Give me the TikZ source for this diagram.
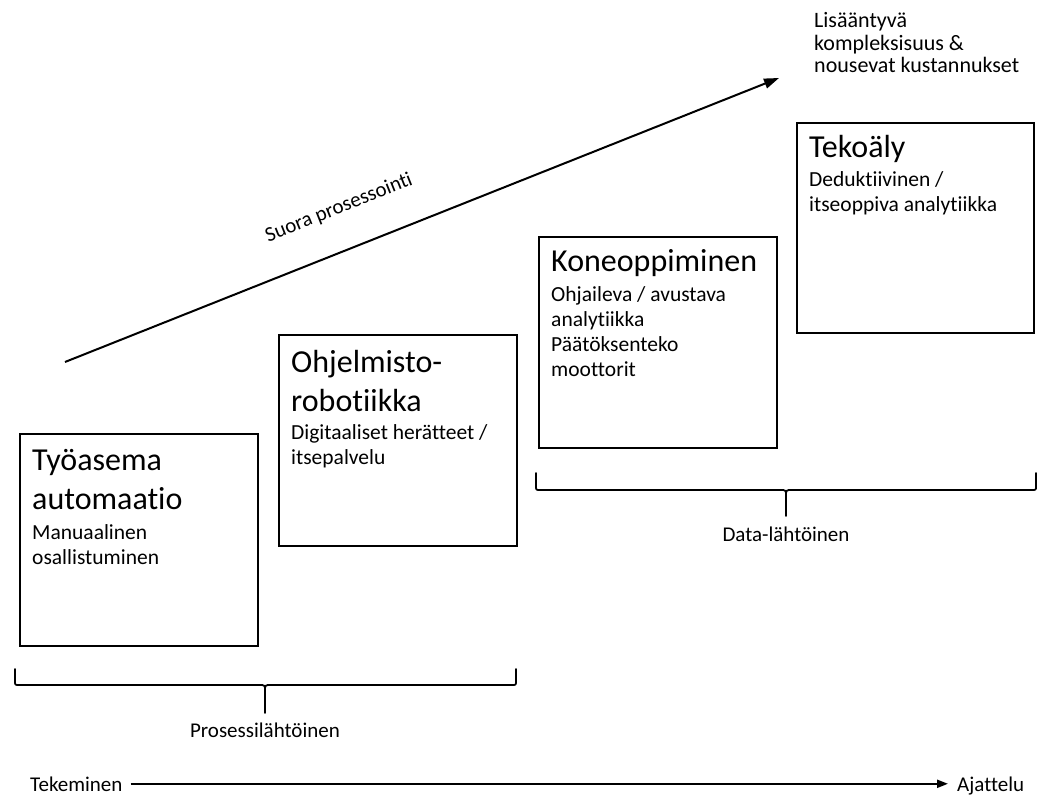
\documentclass[tikz,border=0pt]{standalone}
\usepackage{fontspec}
\setmainfont{Carlito}[Ligatures=NoCommon]
\usetikzlibrary{arrows.meta}
\begin{document}
\begin{tikzpicture}[x=1pt,y=-1pt,
  box/.style={draw=black, line width=1.8pt, anchor=north west, inner sep=0pt},
  ttl/.style={anchor=base west, inner sep=0pt, align=left, font=\fontsize{32}{39}\selectfont},
  sub/.style={anchor=base west, inner sep=0pt, align=left, font=\fontsize{21.5}{25}\selectfont},
  lbl/.style={inner sep=0pt, font=\fontsize{21}{25}\selectfont},
  brace/.style={line width=1.8pt, line join=round, line cap=round},
  arr/.style={line width=2pt, -{Triangle[length=15pt,width=10pt]}},
  harr/.style={line width=2pt, -{Triangle[length=11pt,width=8pt]}}]

\useasboundingbox[fill=white] (0,0) rectangle (1038,799);

% boxes
\node[box, minimum width=238pt, minimum height=212pt] (b1) at (19,433) {};
\node[box, minimum width=238pt, minimum height=211pt] (b2) at (278,334) {};
\node[box, minimum width=238pt, minimum height=211pt] (b3) at (538,236) {};
\node[box, minimum width=237pt, minimum height=210pt] (b4) at (796,122) {};

% box texts (anchor = baseline of the last line)
\node[ttl] (t1) at (32,509) {Työasema\\automaatio};
\node[sub] (s1) at (32,564) {Manuaalinen\\osallistuminen};

\node[ttl] (t2) at (291,411) {Ohjelmisto-\\robotiikka};
\node[sub] (s2) at (291,464) {Digitaaliset herätteet /\\itsepalvelu};

\node[ttl] (t3) at (551,272) {Koneoppiminen};
\node[sub] (s3) at (551,376) {Ohjaileva / avustava\\analytiikka\\Päätöksenteko\\moottorit};

\node[ttl] (t4) at (809,158) {Tekoäly};
\node[sub] (s4) at (809,212) {Deduktiivinen /\\itseoppiva analytiikka};

% rising arrow
\coordinate (s) at (65,362);
\coordinate (e) at (779,78);
\draw[arr] (s) -- (e);
\node[lbl, rotate=21.7] (sp) at (339,208) {Suora prosessointi};

\node[anchor=base west, inner sep=0pt, align=left, font=\fontsize{22}{22.5}\selectfont] (cx) at (814,73) {Lisääntyvä\\kompleksisuus \&\\nousevat kustannukset};

% brace 1
\draw[brace] (15,669) -- (15,681) .. controls (15,685) .. (19,685) -- (259,685) .. controls (265,685) .. (265,691) -- (265,713);
\draw[brace] (516,669) -- (516,681) .. controls (516,685) .. (512,685) -- (271,685) .. controls (265,685) .. (265,691);
\node[lbl, anchor=base] (pl) at (265,737) {Prosessilähtöinen};

% brace 2
\draw[brace] (536,473) -- (536,486) .. controls (536,490) .. (540,490) -- (780,490) .. controls (786,490) .. (786,496) -- (786,516);
\draw[brace] (1036,473) -- (1036,486) .. controls (1036,490) .. (1032,490) -- (792,490) .. controls (786,490) .. (786,496);
\node[lbl, anchor=base] (dl) at (786,541) {Data-lähtöinen};

% bottom axis
\node[lbl, anchor=base west] (tek) at (30,791) {Tekeminen};
\node[lbl, anchor=base west] (aj) at (957,791) {Ajattelu};
\draw[harr] ([xshift=8pt]tek.east) -- ([xshift=-9pt]tek.east -| aj.west);

\end{tikzpicture}
\end{document}
